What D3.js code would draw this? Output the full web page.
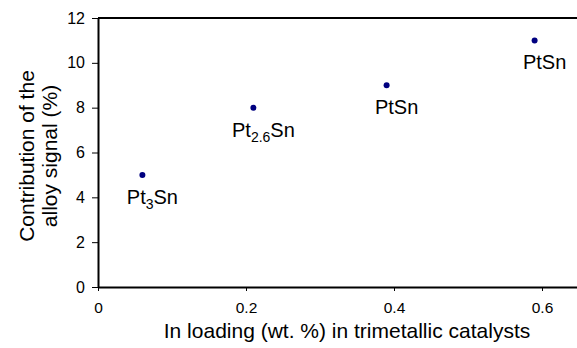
<!DOCTYPE html>
<html>
<head>
<meta charset="utf-8">
<script src="https://cdn.jsdelivr.net/npm/d3@7"></script>
<style>
  body { margin: 0; background: #fff; }
  svg text { font-family: "Liberation Sans", Arial, sans-serif; fill: #000; }
</style>
</head>
<body>
<svg id="chart"></svg>
<script>
// values
const loading = [0.06, 0.21, 0.39, 0.59];
const alloySignal = [5, 8, 9, 11];
const phaseBase = ["Pt", "Pt", "PtSn", "PtSn"];
const phaseSub = ["3", "2.6", "", ""];
const xTicks = [0, 0.2, 0.4, 0.6];
const yTicks = [0, 2, 4, 6, 8, 10, 12];

const width = 577, height = 348;
const margin = { top: 18, right: 0, bottom: 61, left: 98 };

const svg = d3.select("#chart")
  .attr("width", width)
  .attr("height", height);

const x = d3.scaleLinear().domain([0, 0.65]).range([margin.left, margin.left + 0.65 * 740]);
const y = d3.scaleLinear().domain([0, 12]).range([height - margin.bottom, margin.top]);

// x axis
const xAxis = svg.append("g")
  .attr("transform", `translate(0,${y(0)})`)
  .call(d3.axisBottom(x).tickValues(xTicks).tickSize(4).tickPadding(11)
    .tickFormat(d => d === 0 ? "0" : d3.format(".1f")(d)).tickSizeOuter(0));
xAxis.select(".domain").attr("stroke-width", 2);
xAxis.selectAll("text").style("font-size", "15.5px");

// y axis
const yAxis = svg.append("g")
  .attr("transform", `translate(${x(0)},0)`)
  .call(d3.axisLeft(y).tickValues(yTicks).tickSize(6).tickPadding(7).tickSizeOuter(0));
yAxis.select(".domain").attr("stroke-width", 2);
yAxis.selectAll("text").style("font-size", "16px");

// top frame line
svg.append("line")
  .attr("x1", x(0)).attr("x2", width)
  .attr("y1", y(12)).attr("y2", y(12))
  .attr("stroke", "#000").attr("stroke-width", 2);

// points
svg.append("g")
  .selectAll("circle")
  .data(loading)
  .join("circle")
  .attr("cx", d => x(d))
  .attr("cy", (d, i) => y(alloySignal[i]))
  .attr("r", 3)
  .attr("fill", "#000080");

// labels
const labels = svg.append("g")
  .selectAll("text")
  .data(loading)
  .join("text")
  .attr("x", d => x(d) + 10)
  .attr("y", (d, i) => y(alloySignal[i]) + 29)
  .attr("text-anchor", "middle")
  .style("font-size", "20px");
labels.each(function (d, i) {
  const t = d3.select(this);
  t.append("tspan").text(phaseBase[i]);
  if (phaseSub[i]) {
    t.append("tspan").attr("dy", 5).style("font-size", "14px").text(phaseSub[i]);
    t.append("tspan").attr("dy", -5).text("Sn");
  }
});

// axis titles
svg.append("text")
  .attr("x", 347).attr("y", 338)
  .attr("text-anchor", "middle")
  .style("font-size", "21px")
  .text("In loading (wt. %) in trimetallic catalysts");

const yt = svg.append("text")
  .attr("transform", "translate(34,156) rotate(-90)")
  .attr("text-anchor", "middle")
  .style("font-size", "21px");
yt.append("tspan").attr("x", 0).attr("y", 0).text("Contribution of the");
yt.append("tspan").attr("x", 0).attr("y", 23).text("alloy signal (%)");
</script>
</body>
</html>
